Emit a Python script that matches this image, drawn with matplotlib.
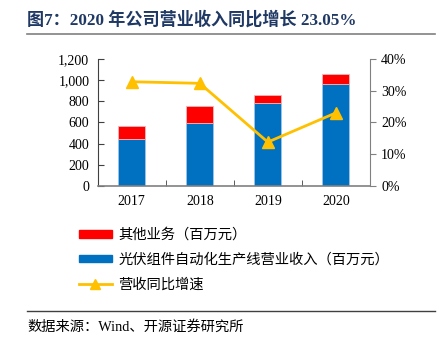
import matplotlib
matplotlib.use("Agg")
import matplotlib.pyplot as plt
from matplotlib.lines import Line2D
from matplotlib.patches import Patch
from matplotlib.ticker import FuncFormatter, PercentFormatter

plt.rcParams['font.family'] = ['Liberation Serif', 'Noto Sans CJK SC', 'DejaVu Sans']

years = ['2017', '2018', '2019', '2020']
pv_line_rev = [443, 595, 785, 963]      # 光伏组件自动化生产线营业收入（百万元）
other_rev = [127, 162, 76, 97]          # 其他业务（百万元）
growth = [32.9, 32.4, 13.8, 23.05]      # 营收同比增速（%）

red = '#FF0000'
blue = '#0070C0'
gold = '#FFC000'
grey = '#808080'

fig = plt.figure(figsize=(4.43, 3.37), dpi=100)
ax = fig.add_axes([0.2205, 0.449, 0.6145, 0.375])

x = list(range(len(years)))
ax.bar(x, pv_line_rev, width=0.4, color=blue, edgecolor='#9DC3E6', linewidth=0.6, zorder=2)
ax.bar(x, other_rev, width=0.4, bottom=pv_line_rev, color=red, edgecolor='#F4B6B6',
       linewidth=0.6, zorder=2)

ax.set_xlim(-0.5, 3.5)
ax.set_ylim(0, 1200)
ax.set_yticks(range(0, 1201, 200))
ax.yaxis.set_major_formatter(FuncFormatter(lambda v, p: f'{int(v):,}'))
ax.set_xticks(x)
ax.set_xticklabels(years)
ax.set_xticks([0.5, 1.5, 2.5], minor=True)
ax.tick_params(axis='x', which='major', length=0, labelsize=10, pad=7)
ax.tick_params(axis='x', which='minor', length=4, direction='in', color='#404040')
ax.tick_params(axis='y', direction='in', length=4, labelsize=10, pad=6, color='#404040')

for s in ['top', 'right']:
    ax.spines[s].set_visible(False)
ax.spines['left'].set_color('#404040')
ax.spines['bottom'].set_color(grey)
ax.spines['bottom'].set_linewidth(1.2)

ax2 = ax.twinx()
ax2.plot(x, growth, color=gold, linewidth=2, marker='^', markersize=8, zorder=3)
ax2.set_ylim(0, 40)
ax2.set_yticks(range(0, 41, 10))
ax2.yaxis.set_major_formatter(PercentFormatter(decimals=0))
ax2.tick_params(axis='y', direction='out', length=4, labelsize=10, pad=4, color=grey)
for s in ['top', 'left', 'bottom']:
    ax2.spines[s].set_visible(False)
ax2.spines['right'].set_color(grey)

# title and rules
fig.text(0.061, 0.94, '图7：2020 年公司营业收入同比增长 23.05%', fontsize=12.3,
         fontweight='bold', color='#1F3864', va='center', ha='left')
fig.add_artist(Line2D([0.061, 0.982], [0.898, 0.898], color=grey, linewidth=1.2))
fig.add_artist(Line2D([0.061, 0.982], [0.077, 0.077], color='#404040', linewidth=1.0))
fig.text(0.061, 0.03, '数据来源：Wind、开源证券研究所', fontsize=10.3, va='center', ha='left')

handles = [
    Patch(facecolor=red, edgecolor=red),
    Patch(facecolor=blue, edgecolor=blue),
    Line2D([], [], color=gold, linewidth=2, marker='^', markersize=7),
]
labels = ['其他业务（百万元）', '光伏组件自动化生产线营业收入（百万元）', '营收同比增速']
fig.legend(handles, labels, loc='upper left', bbox_to_anchor=(0.165, 0.34), frameon=False,
           fontsize=10.3, handlelength=2.3, handleheight=0.45, handletextpad=0.45,
           labelspacing=0.78, borderaxespad=0)

fig.savefig('out.png', dpi=100)
